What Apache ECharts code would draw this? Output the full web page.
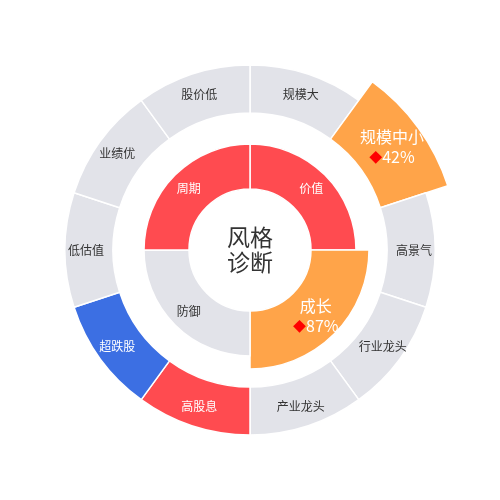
<!DOCTYPE html>
<html><head><meta charset="utf-8">
<script src="https://cdn.jsdelivr.net/npm/echarts@6/dist/echarts.min.js"></script>
<style>html,body{margin:0;padding:0;background:#fff}#c{width:500px;height:500px}</style>
</head><body><div id="c"></div>
<script>
// Inner ring (style groups)
var innerNames = ['价值', '成长', '防御', '周期'];
var innerLevels = [45, 58, 45, 45];          // ring reach (highlighted sector sticks out)
var innerTypes = ['red', 'orange', 'gray', 'red'];
var innerPct = [null, '87%', null, null];

// Outer ring (style tags)
var outerNames = ['规模大', '规模中小', '高景气', '行业龙头', '产业龙头', '高股息', '超跌股', '低估值', '业绩优', '股价低'];
var outerLevels = [48, 71, 48, 48, 48, 48, 48, 48, 48, 48];
var outerTypes = ['gray', 'orange', 'gray', 'gray', 'gray', 'red', 'blue', 'gray', 'gray', 'gray'];
var outerPct = [null, '42%', null, null, null, null, null, null, null, null];

var centerText = '风格\n诊断';

var colors = { red: '#FF4B50', orange: '#FFA449', gray: '#E2E3E9', blue: '#3C6FE3' };
var FONT = '"Noto Sans CJK SC", "Noto Sans", sans-serif';

function build(names, levels, types, pcts) {
  return names.map(function (n, i) {
    var t = types[i];
    var item = {
      name: n, value: levels[i],
      itemStyle: { color: colors[t] },
      label: { color: t === 'gray' ? '#333' : '#fff', fontSize: 12 }
    };
    if (pcts[i]) {
      item.label = {
        formatter: '{b}\n{d|◆}' + pcts[i],
        color: '#fff', fontSize: 16, lineHeight: 20, fontFamily: FONT,
        rich: {
          d: { color: '#F00', fontSize: 13, fontFamily: FONT, lineHeight: 20 }
        }
      };
    }
    return item;
  });
}

var chart = echarts.init(document.getElementById('c'));
chart.setOption({
  animation: false,
  textStyle: { fontFamily: FONT },
  graphic: [{
    type: 'text', left: 'center', top: 'middle',
    style: { text: centerText, font: '23px ' + FONT, fill: '#333', textAlign: 'center', lineHeight: 25 }
  }],
  series: [
    {
      type: 'pie', roseType: 'area', center: ['50%', '50%'], radius: [61, 119],
      startAngle: 90, clockwise: true,
      itemStyle: { borderColor: '#fff', borderWidth: 1.5 },
      label: { position: 'inside', fontFamily: FONT },
      labelLine: { show: false },
      labelLayout: { hideOverlap: false },
      emphasis: { disabled: true },
      data: build(innerNames, innerLevels, innerTypes, innerPct)
    },
    {
      type: 'pie', roseType: 'area', center: ['50%', '50%'], radius: [137, 208],
      startAngle: 90, clockwise: true,
      itemStyle: { borderColor: '#fff', borderWidth: 1.5 },
      label: { position: 'inside', fontFamily: FONT },
      labelLine: { show: false },
      labelLayout: { hideOverlap: false },
      emphasis: { disabled: true },
      data: build(outerNames, outerLevels, outerTypes, outerPct)
    }
  ]
});
</script></body></html>
